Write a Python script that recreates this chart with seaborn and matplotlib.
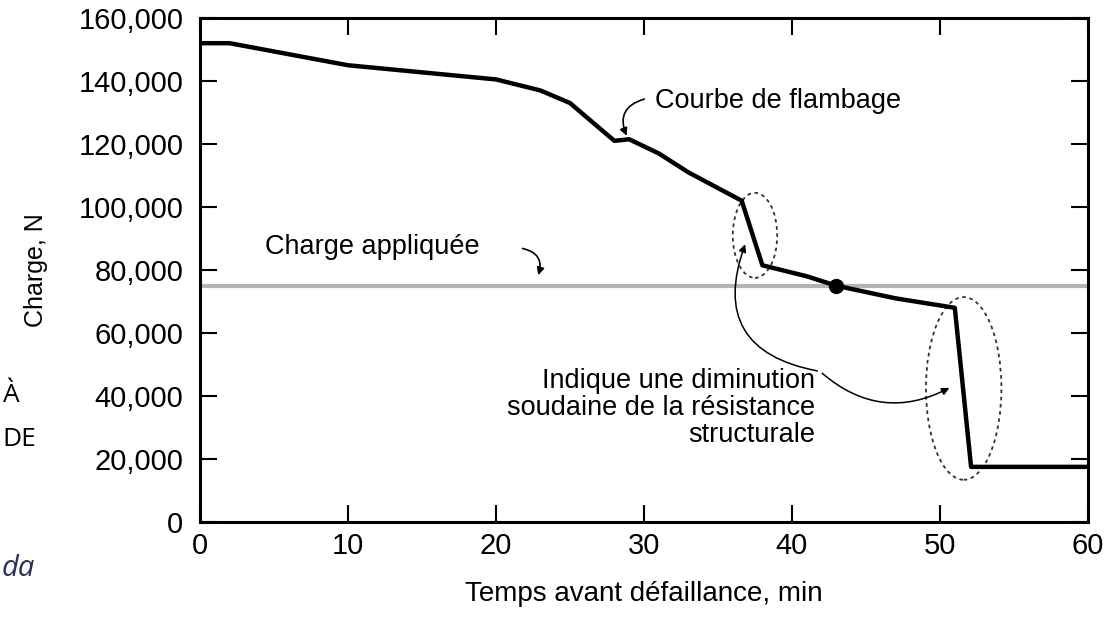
import numpy as np
import pandas as pd
import matplotlib
matplotlib.use("Agg")
import matplotlib.pyplot as plt
import seaborn as sns
from matplotlib.patches import Ellipse
from matplotlib.ticker import FuncFormatter

# Buckling curve: time before failure (min) vs load (N)
temps = [0, 2, 10, 20, 23, 25, 28, 29, 31, 33, 36.6, 38, 41, 43, 47, 51, 52.1, 60]
charge = [152000, 152000, 145000, 140500, 137000, 133000, 121000, 121500, 117000, 111000,
          102000, 81500, 78000, 75000, 71000, 68000, 17500, 17500]
charge_appliquee = 75000
point_rupture = (43, 75000)

x_ticks = [0, 10, 20, 30, 40, 50, 60]
y_ticks = [0, 20000, 40000, 60000, 80000, 100000, 120000, 140000, 160000]

df = pd.DataFrame({"temps": temps, "charge": charge})

sns.set_style("ticks")
plt.rcParams['font.family'] = ['Liberation Sans', 'DejaVu Sans']
plt.rcParams['text.color'] = 'black'
plt.rcParams['axes.labelcolor'] = 'black'

fig = plt.figure(figsize=(11.12, 6.23), dpi=100)
ax = fig.add_axes([200 / 1112, 1 - 522 / 623, 888 / 1112, 504 / 623])

ax.axhline(charge_appliquee, color="#b4b4b4", lw=3, zorder=1)
sns.lineplot(data=df, x="temps", y="charge", color="black", lw=3.2, ax=ax,
             sort=False, zorder=3)
ax.plot(*point_rupture, "o", color="black", ms=10, zorder=4)

# dotted ellipses around the sudden drops
ax.add_patch(Ellipse((37.5, 91000), 3.0, 27000, fill=False,
                     ls=(0, (2, 2)), lw=1.3, color="#333333"))
ax.add_patch(Ellipse((51.6, 42400), 5.1, 58000, fill=False,
                     ls=(0, (2, 2)), lw=1.3, color="#333333"))

ax.set_xlim(0, 60)
ax.set_ylim(0, 160000)
ax.set_xticks(x_ticks)
ax.set_yticks(y_ticks)
ax.yaxis.set_major_formatter(FuncFormatter(lambda v, p: f"{int(v):,}"))
ax.tick_params(direction="in", length=12, width=1.5, top=True, right=True,
               labelsize=21, colors="black")
ax.tick_params(axis="y", pad=12)
ax.tick_params(axis="x", pad=7)
for s in ax.spines.values():
    s.set_linewidth(2.2)
    s.set_color("black")

ax.set_xlabel("Temps avant défaillance, min", fontsize=20, labelpad=15)
ax.set_ylabel("Charge, N", fontsize=18, labelpad=22)

# annotations
ax.text(30.75, 133500, "Courbe de flambage", fontsize=19.5, va="center", ha="left")
ax.annotate("", xy=(28.9, 121800), xytext=(30.2, 134500),
            arrowprops=dict(arrowstyle="-|>", lw=1.2, color="black",
                            connectionstyle="arc3,rad=0.6", mutation_scale=11))

ax.text(4.4, 87300, "Charge appliquée", fontsize=19.5, va="center", ha="left")
ax.annotate("", xy=(22.8, 77500), xytext=(21.6, 87000),
            arrowprops=dict(arrowstyle="-|>", lw=1.2, color="black",
                            connectionstyle="arc3,rad=-0.6", mutation_scale=11))

ax.text(41.55, 36300, "Indique une diminution\nsoudaine de la résistance\nstructurale",
        fontsize=19.5, va="center", ha="right", linespacing=1.05)
ax.annotate("", xy=(36.9, 89000), xytext=(41.9, 47800),
            arrowprops=dict(arrowstyle="-|>", lw=1.1, color="black",
                            connectionstyle="arc3,rad=-0.6", mutation_scale=11))
ax.annotate("", xy=(50.8, 43000), xytext=(41.9, 47800),
            arrowprops=dict(arrowstyle="-|>", lw=1.1, color="black",
                            connectionstyle="arc3,rad=0.35", mutation_scale=11))

# text fragments at the left edge of the screenshot
fig.text(3 / 1112, 1 - 395 / 623, "À", fontsize=19, ha="left", va="center",
         family=["Open Sans", "DejaVu Sans"])
fig.text(2 / 1112, 1 - 440 / 623, "DE", fontsize=19, ha="left", va="center",
         family=["Open Sans", "DejaVu Sans"])
fig.text(2 / 1112, 1 - 568 / 623, "da", fontsize=21, ha="left", va="center",
         style="italic", color="#2b2f5a", family=["Open Sans", "DejaVu Sans"])

fig.savefig("out.png", dpi=100)
